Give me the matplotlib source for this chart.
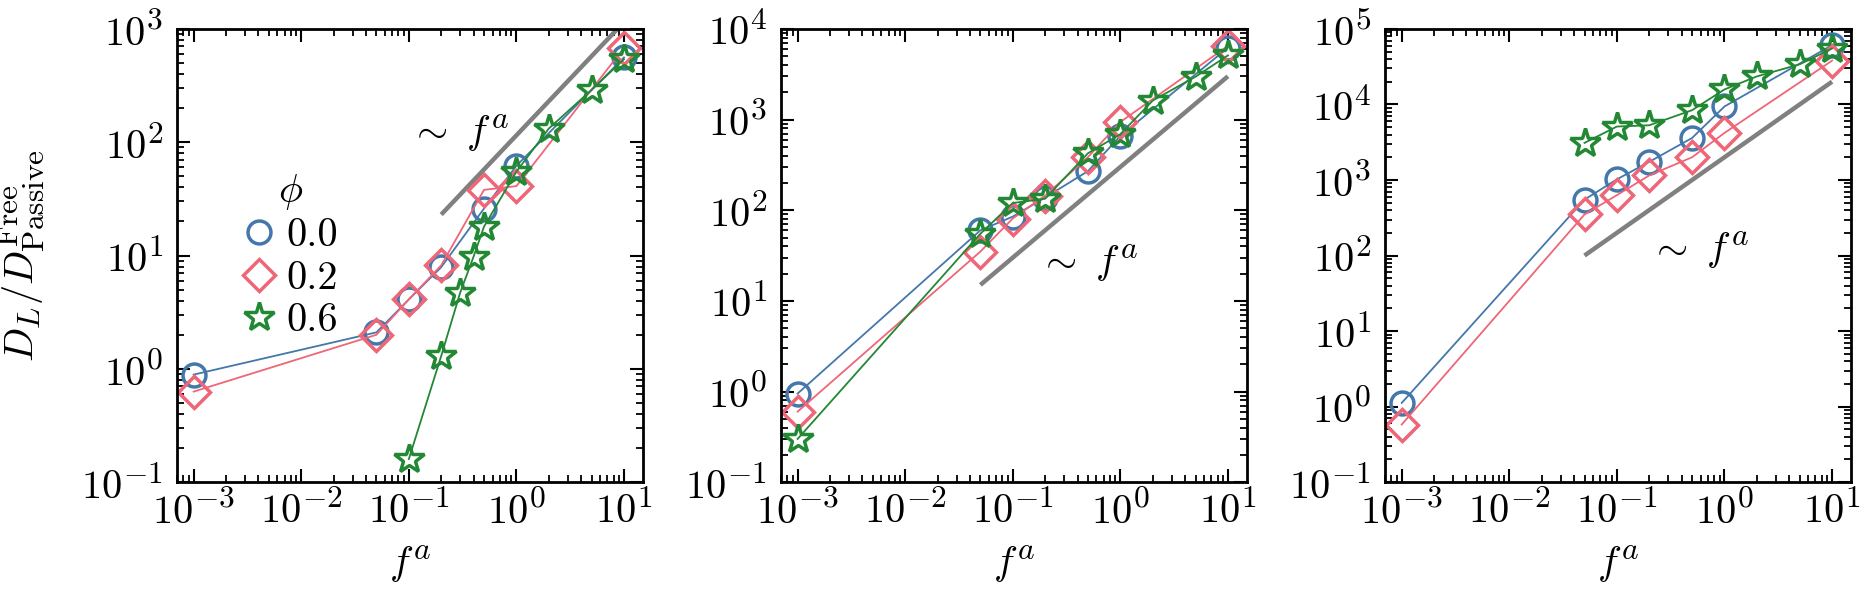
import matplotlib
matplotlib.use("Agg")
import numpy as np
import matplotlib.pyplot as plt
import matplotlib._mathtext as mtext
from matplotlib.lines import Line2D
from matplotlib.ticker import LogLocator

# LaTeX sets sub/superscripts in cmr7, which looks bigger than a 0.7 scaled cmr10
mtext.SHRINK_FACTOR = 0.78

plt.rcParams['font.family'] = 'serif'
plt.rcParams['font.serif'] = ['cmr10']
plt.rcParams['mathtext.fontset'] = 'cm'
plt.rcParams['axes.formatter.use_mathtext'] = True
plt.rcParams['font.size'] = 29

# colours / styles per phi
phis = ['0.0', '0.2', '0.6']
colors = ['#4477AA', '#EE6677', '#228833']
markers = ['o', 'D', '*']
msizes = [16.5, 16, 22]

# panel 1
x1_a = [1e-3, 0.05, 0.1, 0.2, 0.5, 1, 10]
y1_a = [0.89, 2.1, 4.1, 7.9, 26, 62, 560]
x1_b = [1e-3, 0.05, 0.1, 0.2, 0.5, 1, 10]
y1_b = [0.63, 2.0, 4.1, 8.2, 38, 41, 680]
x1_c = [0.1, 0.2, 0.3, 0.4, 0.5, 1, 2, 5, 10]
y1_c = [0.16, 1.3, 4.7, 9.8, 18, 55, 132, 290, 540]

# panel 2
x2_a = [1e-3, 0.05, 0.1, 0.2, 0.5, 1, 10]
y2_a = [0.95, 60, 85, 138, 270, 660, 6200]
x2_b = [1e-3, 0.05, 0.1, 0.2, 0.5, 1, 10]
y2_b = [0.6, 35, 81, 145, 385, 940, 6500]
x2_c = [1e-3, 0.05, 0.1, 0.2, 0.5, 1, 2, 5, 10]
y2_c = [0.3, 55, 120, 134, 425, 690, 1620, 2970, 5100]

# panel 3
x3_a = [1e-3, 0.05, 0.1, 0.2, 0.5, 1, 10]
y3_a = [1.12, 550, 1020, 1740, 3600, 9400, 61000]
x3_b = [1e-3, 0.05, 0.1, 0.2, 0.5, 1, 10]
y3_b = [0.58, 350, 630, 1150, 2000, 4200, 38000]
x3_c = [0.05, 0.1, 0.2, 0.5, 1, 2, 5, 10]
y3_c = [3100, 5100, 5300, 8400, 15800, 23500, 34000, 55000]

# ~ f^a guide lines (slope 1)
guide_x = [[0.2, 10], [0.05, 10], [0.05, 10]]
guide_c = [115, 300, 2000]
guide_txt = [(0.1, 120), (0.17, 26), (0.2, 117)]
ylims = [(0.1, 1e3), (0.1, 1e4), (0.1, 1e5)]

panels = [
    [(x1_a, y1_a), (x1_b, y1_b), (x1_c, y1_c)],
    [(x2_a, y2_a), (x2_b, y2_b), (x2_c, y2_c)],
    [(x3_a, y3_a), (x3_b, y3_b), (x3_c, y3_c)],
]

fig = plt.figure(figsize=(18.75, 6.02), dpi=100)
lefts = [0.0944, 0.4165, 0.7387]
axs = [fig.add_axes([l, 0.199, 0.2485, 0.753]) for l in lefts]

for i, ax in enumerate(axs):
    gx = guide_x[i]
    ax.plot(gx, [guide_c[i] * v for v in gx], color='gray', lw=3.2, solid_capstyle='butt')
    for (xs, ys), c, m, ms in zip(panels[i], colors, markers, msizes):
        ax.plot(xs, ys, color=c, lw=1.3, marker=m, ms=ms, mfc='none', mec=c, mew=2.5)
    ax.text(guide_txt[i][0], guide_txt[i][1], r'$\sim\ f^a$', ha='left', va='center', fontsize=29)
    ax.set_xscale('log')
    ax.set_yscale('log')
    ax.set_xlim(7e-4, 15)
    ax.set_ylim(*ylims[i])
    for axis in (ax.xaxis, ax.yaxis):
        axis.set_major_locator(LogLocator(base=10, numticks=20))
        axis.set_minor_locator(LogLocator(base=10, subs=np.arange(2, 10), numticks=20))
    ax.set_xlabel(r'$f^a$', labelpad=8)
    ax.tick_params(which='both', direction='in', top=True, right=True, labelsize=29)
    ax.tick_params(axis='x', pad=6)
    ax.tick_params(axis='y', pad=10)
    ax.tick_params(which='major', length=9.5, width=1.5)
    ax.tick_params(which='minor', length=5, width=1.3)
    for s in ax.spines.values():
        s.set_linewidth(2.0)

axs[0].set_ylabel(r'$D_L/D^{\rm Free}_{\rm Passive}$')
axs[0].yaxis.set_label_coords(-0.278, 0.5)

handles = [Line2D([], [], ls='none', marker=m, ms=ms, mfc='none', mec=c, mew=2.5)
           for c, m, ms in zip(colors, markers, msizes)]
axs[0].legend(handles, phis, title=r'$\phi$', loc='center left', bbox_to_anchor=(0.08, 0.50),
              frameon=False, fontsize=29, title_fontsize=29, handlelength=0.8,
              handletextpad=0.3, labelspacing=0.15, borderpad=0.2)

fig.savefig('out.png', dpi=100)
